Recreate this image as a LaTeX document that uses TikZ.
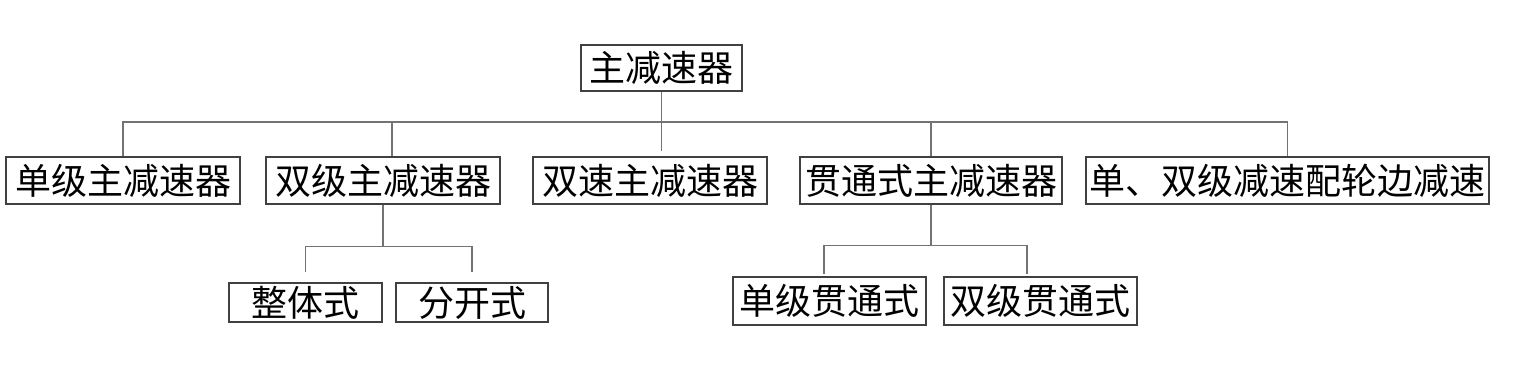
\documentclass[tikz,border=0pt]{standalone}
\usepackage{fontspec}
\setmainfont{Noto Sans CJK SC}
\usetikzlibrary{calc}
\tikzset{lnk/.style={draw=black!55, line width=1.3pt},
  blk/.style={draw=black!75, line width=1.3pt, minimum height=47pt, inner sep=0pt,
    font=\fontsize{36}{38}\selectfont}}

\begin{document}
\begin{tikzpicture}[x=1pt, y=-1pt]
  \useasboundingbox (0,0) rectangle (1522,367);
  \node[blk, minimum width=161pt, minimum height=46pt] (m) at (661.5,68) {主减速器};
  \node[blk, minimum width=234pt] (s1) at (123,180.5) {单级主减速器};
  \node[blk, minimum width=234pt] (s2) at (383,180.5) {双级主减速器};
  \node[blk, minimum width=234pt] (s3) at (650,180.5) {双速主减速器};
  \node[blk, minimum width=262pt] (s4) at (931,180.5) {贯通式主减速器};
  \node[blk, minimum width=403pt] (s5) at (1287.5,180.5) {单、双级减速配轮边减速};
  \node[blk, minimum width=153pt, minimum height=39pt] (d1) at (305.5,302.5) {整体式};
  \node[blk, minimum width=152pt, minimum height=39pt] (d2) at (472,302.5) {分开式};
  \node[blk, minimum width=193pt, minimum height=48pt] (t1) at (829.5,301) {单级贯通式};
  \node[blk, minimum width=193pt, minimum height=48pt] (t2) at (1040.5,301) {双级贯通式};
  % main bus
  \coordinate (b0) at (661,122);
  \coordinate (s2t) at ($(s2.north)+(9,0)$);
  \draw[lnk, shorten >=5pt] (m.south) -- (m.south |- s3.north);
  \draw[lnk] (s1.north) |- (b0) -| (s5.north);
  \draw[lnk] (s2t) -- (s2t |- b0);
  \draw[lnk] (s4.north) -- (s4.north |- b0);
  % sub buses
  \coordinate (b2) at ($(s2.south)+(0,42)$);
  \draw[lnk] (s2.south) -- (b2);
  \draw[lnk, shorten >=10pt] (b2) -| (d1.north);
  \draw[lnk, shorten >=10pt] (b2) -| (d2.north);
  \coordinate (b4) at ($(s4.south)+(0,41)$);
  \coordinate (t1t) at ($(t1.north)+(-5.5,0)$);
  \coordinate (t2t) at ($(t2.north)+(-13.5,0)$);
  \draw[lnk] (s4.south) -- (b4);
  \draw[lnk, shorten >=2pt] (b4) -| (t1t);
  \draw[lnk, shorten >=2pt] (b4) -| (t2t);
\end{tikzpicture}
\end{document}
